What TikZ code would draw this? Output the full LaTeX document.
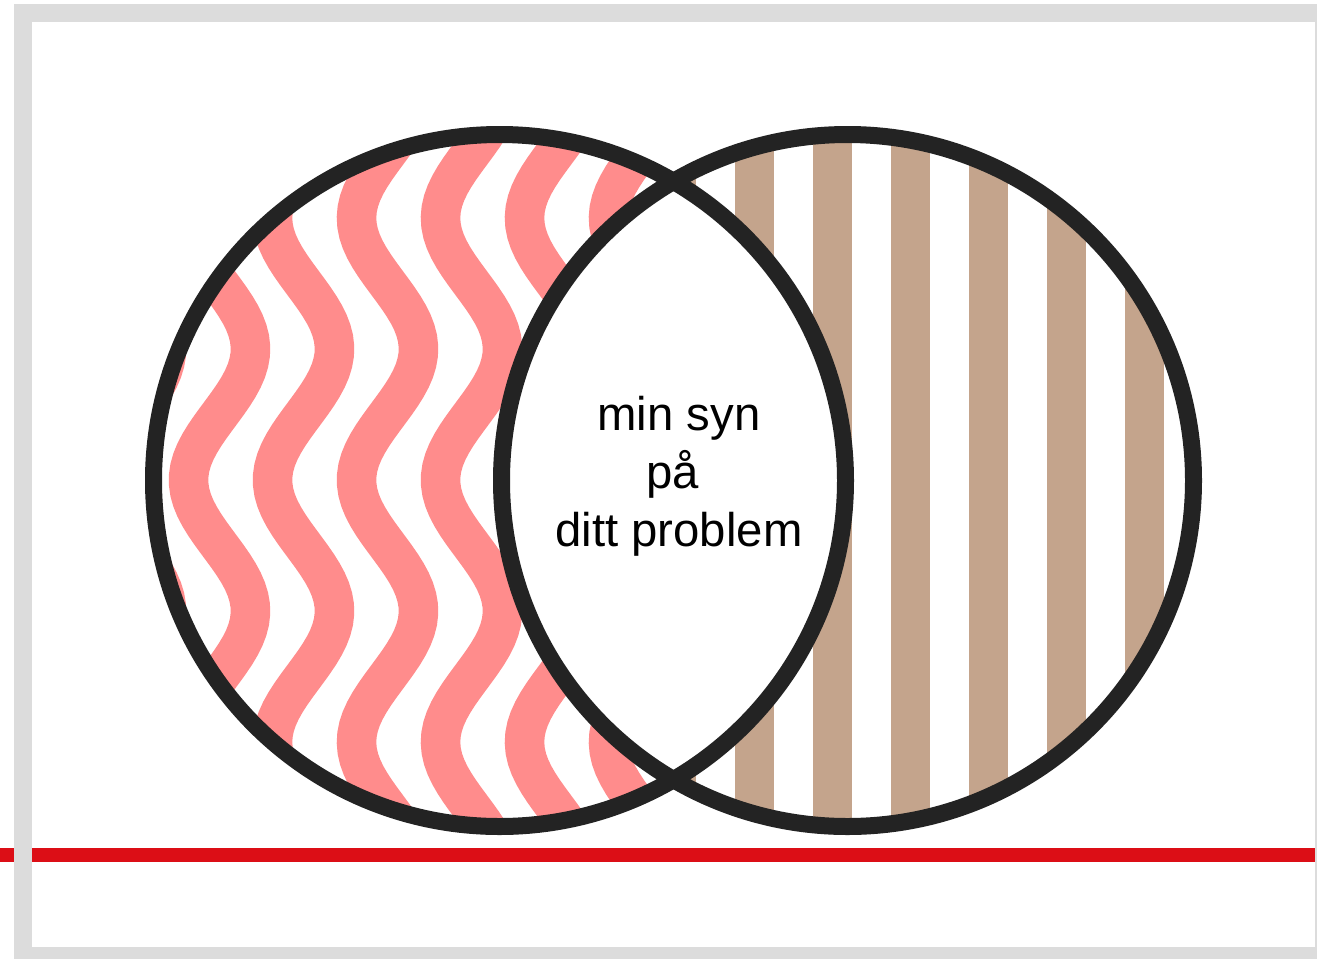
\documentclass[tikz,border=0pt]{standalone}
\usepackage{fontspec}
\setmainfont{Liberation Sans}
\definecolor{framegray}{RGB}{220,220,220}
\definecolor{rulered}{RGB}{220,14,22}
\definecolor{wavepink}{RGB}{255,140,140}
\definecolor{stripebrown}{RGB}{196,164,140}
\definecolor{ringblack}{RGB}{35,35,35}

\begin{document}
\begin{tikzpicture}[x=1pt,y=-1pt,
  ring/.style={draw=ringblack,line width=17pt},
  wave/.style={draw=wavepink,line width=39.5pt},
  bar/.style={fill=stripebrown}]
\useasboundingbox (0,0) rectangle (1317,959);
\fill[framegray] (14,4) rectangle (1317,959);
\fill[white] (32,22) rectangle (1315,947);
\coordinate (lc) at (499.5,480.5);
\coordinate (rc) at (847.5,480.5);
% red rule, broken by the frame
\draw[rulered,line width=14pt] (0,855) -- (14,855);
\draw[rulered,line width=14pt] (32,855) -- (1315,855);
% waves in the left circle
\begin{scope}
\clip (lc) circle (346);
\foreach \k [evaluate=\k as \c using 219.5+84*\k] in {-1,...,6}
  \draw[wave] plot[domain=120:840,samples=90,variable=\t] ({\c-31*cos(1.374*(\t-480))},\t);
\end{scope}
% bars in the right circle
\begin{scope}
\clip (rc) circle (346);
\foreach \j in {-1,...,5}
  \fill[bar] ({735+78*\j},120) rectangle ++(38.5,720);
\end{scope}
% the overlap stays white
\begin{scope}
\clip (lc) circle (346);
\fill[white] (rc) circle (346);
\end{scope}
\draw[ring] (lc) circle (346);
\draw[ring] (rc) circle (346);
\node[font=\fontsize{47.3}{58}\selectfont,align=center,inner sep=0pt] (lens) at (679,476) {min syn\\på\rule{13pt}{0pt}\\ditt problem};
\end{tikzpicture}
\end{document}
